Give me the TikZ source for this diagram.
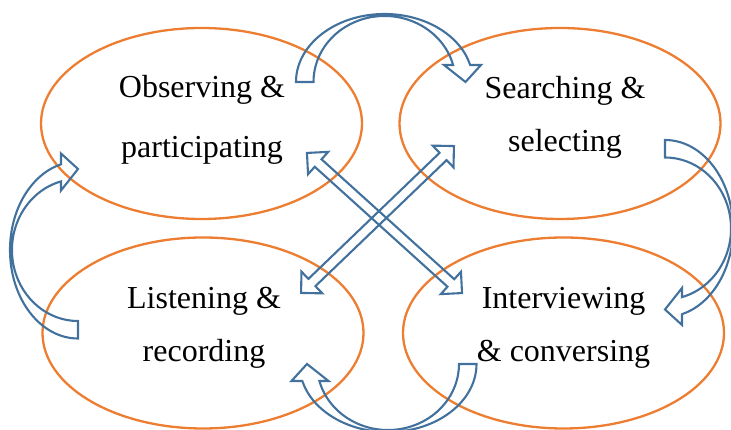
\documentclass[tikz,border=0pt]{standalone}
\usepackage{fontspec}
\setmainfont{Liberation Serif}
\usetikzlibrary{shapes.geometric, shapes.arrows}

\definecolor{ovalorange}{RGB}{237,125,49}
\definecolor{arrowblue}{RGB}{65,113,156}

\tikzset{
  % curved block arrow: tail on the left, head on the right, bulging upwards
  loop arrow/.pic={
    \draw[blockline] (-88.5,0) arc[start angle=180, end angle=14.5, x radius=88.5pt, y radius=68pt]
      -- (96.5,17) -- (81,0) -- (59.5,17) -- (68.6,17)
      arc[start angle=14.9, end angle=180, x radius=71pt, y radius=66pt] -- cycle;
  }
}

\begin{document}
\begin{tikzpicture}[
  x=1pt, y=1pt,
  blockline/.style={draw=arrowblue, line width=2.1pt},
  oval/.style={ellipse, draw=ovalorange, line width=2.3pt, minimum width=321pt, minimum height=191pt, inner sep=0pt},
  words/.style={align=center, inner sep=0pt, font=\fontsize{32pt}{53.4pt}\selectfont},
  twoway/.style={double arrow, blockline, inner xsep=0pt, inner ysep=4pt, double arrow head extend=10pt, minimum width=0pt}
]
\useasboundingbox (0,0) rectangle (731,430);

\node[oval] (observe) at (201.5,306.5) {};
\node[oval] (search) at (560,306.5) {};
\node[oval] (listen) at (203,97) {};
\node[oval] (interview) at (563.5,97) {};

\node[words, font=\fontsize{32pt}{60pt}\selectfont, anchor=base] (observetext) at (202,272) {Observing \&\\participating};
\node[words, anchor=base] (searchtext) at (565,278) {Searching \&\\selecting};
\node[words, anchor=base] (listentext) at (204,68) {Listening \&\\recording};
\node[words, anchor=base] (interviewtext) at (563.5,68) {Interviewing\\\& conversing};

% the cycle round the four ovals
\pic at (384.5,348) {loop arrow};
\pic[rotate=-90] at (665,201.5) {loop arrow};
\pic[rotate=180] at (388,66) {loop arrow};
\pic[rotate=90] at (78,180) {loop arrow};

% two-way links across the middle
\node[twoway, rotate=-42.1, minimum height=209pt] (obsint) at (384.5,207) {};
\node[twoway, rotate=43.85, minimum height=212pt] (lissea) at (377.5,210.5) {};
\end{tikzpicture}
\end{document}
